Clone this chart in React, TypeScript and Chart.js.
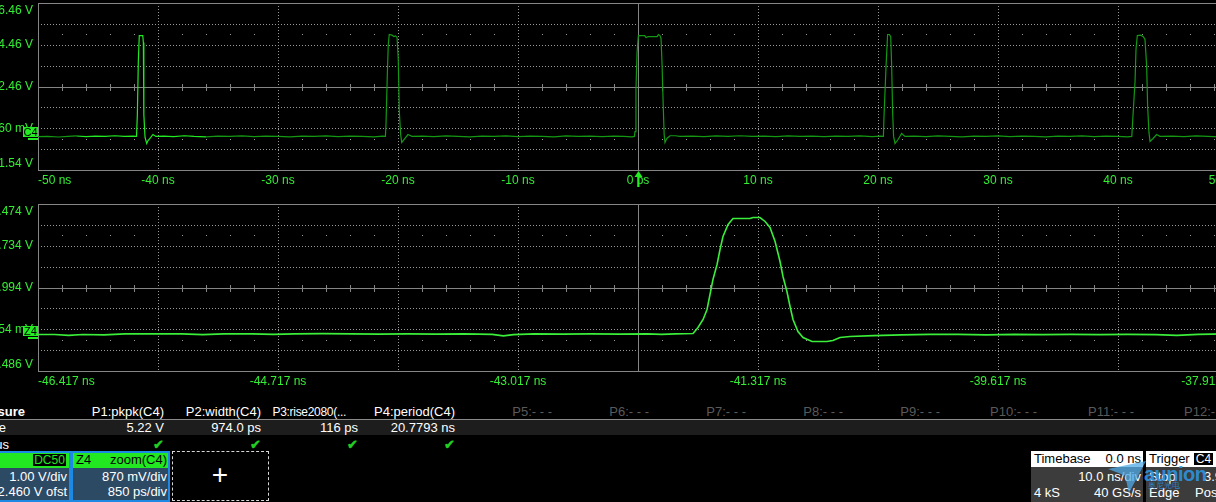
import React, { useEffect, useRef } from 'react';
import { Chart, registerables } from 'chart.js';

Chart.register(...registerables);

const FONT = '"Liberation Sans", Arial, Helvetica, sans-serif';
const W = 1216;
const H = 502;
const AXIS_GREEN = '#33ee33';
const TRACE_BRIGHT = '#22ea22';
const TRACE_DARK = '#149814';
const ZOOM_TRACE = '#3aee3a';
const GRID_DOT = '#9a9a9a';
const GRID_SOLID = '#858585';

// ---------- Top (C4) trace: time in ns, voltage in V ----------
const topTime = [
  -50, -49.2, -48.3, -47.5, -46.8, -46, -45.2, -44.4, -43.6, -42.8, -42.1, -41.79,
  -41.72, -41.64, -41.56, -41.27, -41.22, -41.18, -41.08, -40.94, -40.83, -40.67, -40.42, -40.17,
  -39.5, -38.7, -37.8, -37, -36, -35, -34, -33, -32, -31, -30, -29, -28, -27, -26, -25, -24, -23, -22, -21.3, -21.05,
  -21.0, -20.89, -20.81, -20.73, -20.5, -20.33, -20.2, -20.08, -19.98, -19.89, -19.78, -19.69, -19.5, -19.17, -18.83,
  -18, -17, -16, -15, -14, -13, -12, -11, -10, -9, -8, -7, -6, -5, -4, -3, -2, -1.2, -0.5, -0.3,
  -0.25, -0.17, -0.08, 0.03, 0.55, 0.67, 0.85, 1.6, 1.7, 1.83, 1.92, 2.0, 2.1, 2.18, 2.25, 2.4, 2.67, 3.1, 3.5,
  4.5, 5.5, 6.5, 7.5, 8.5, 9.5, 10.5, 11.5, 12.5, 13.5, 14.5, 15.5, 16.5, 17.5, 18.5, 19.5, 20.2, 20.45,
  20.5, 20.67, 20.8, 20.95, 21.06, 21.14, 21.22, 21.3, 21.42, 21.67, 21.97, 22.25,
  23, 24, 25, 26, 27, 28, 29, 30, 31, 32, 33, 34, 35, 36, 37, 38, 39, 40, 40.8, 41.15,
  41.22, 41.42, 41.5, 41.61, 41.9, 42.11, 42.25, 42.39, 42.47, 42.58, 42.67, 42.92, 43.22, 43.5,
  44.5, 45.5, 46.5, 47.5, 48.5, 49.3, 50,
];
const topVolt = [
  0.06, 0.07, 0.04, 0.07, 0.09, 0.06, 0.08, 0.07, 0.1, 0.07, 0.08, 0.07,
  1.12, 3.66, 4.9, 4.9, 4.57, 1.12, 0.02, -0.27, -0.13, -0.03, 0.16, 0.07,
  0.08, 0.06, 0.1, 0.07, 0.05, 0.08, 0.07, 0.09, 0.06, 0.08, 0.07, 0.05, 0.08, 0.07, 0.09, 0.06, 0.08, 0.07, 0.05, 0.08, 0.07,
  0.64, 3.03, 4.47, 4.95, 4.92, 4.85, 4.88, 4.81, 3.8, 1.26, 0.16, -0.22, -0.08, 0.16, 0.07,
  0.08, 0.06, 0.09, 0.07, 0.05, 0.08, 0.07, 0.09, 0.06, 0.08, 0.07, 0.05, 0.09, 0.07, 0.08, 0.06, 0.08, 0.07, 0.05, 0.07,
  0.3, 2.32, 4.09, 4.9, 4.9, 4.81, 4.85, 4.85, 4.95, 4.9, 4.76, 3.61, 1.6, 0.16, -0.22, -0.03, 0.1, 0.1, 0.07,
  0.08, 0.06, 0.09, 0.07, 0.1, 0.07, 0.08, 0.06, 0.09, 0.07, 0.08, 0.06, 0.08, 0.07, 0.09, 0.06, 0.08, 0.07,
  1.02, 3.42, 4.95, 4.95, 4.85, 3.42, 1.21, 0.07, -0.27, -0.08, 0.21, 0.07,
  0.08, 0.06, 0.09, 0.07, 0.05, 0.08, 0.07, 0.09, 0.06, 0.08, 0.07, 0.05, 0.08, 0.07, 0.09, 0.06, 0.08, 0.07, 0.05, 0.07,
  0.78, 2.7, 4.23, 4.9, 4.92, 4.85, 4.71, 3.42, 1.5, 0.26, -0.17, -0.03, 0.16, 0.07,
  0.08, 0.06, 0.09, 0.07, 0.05, 0.08, 0.07,
];

// ---------- Bottom (Z4 zoom) trace ----------
const zoomTime = [
  -46.417, -46.3, -46.2, -46.1, -45.95, -45.8, -45.6, -45.4, -45.25, -45.1, -44.9, -44.75, -44.6, -44.4, -44.2,
  -44.0, -43.8, -43.6, -43.4, -43.2, -43.12, -43.05, -42.9, -42.7, -42.5, -42.3, -42.1, -42.0, -41.9, -41.777,
  -41.742, -41.706, -41.678, -41.657, -41.636, -41.607, -41.586, -41.565, -41.529, -41.494, -41.374, -41.352,
  -41.303, -41.267, -41.232, -41.196, -41.161, -41.14, -41.112, -41.09, -41.069, -41.034, -40.998, -40.934,
  -40.828, -40.786, -40.736, -40.665, -40.5, -40.3, -40.1, -39.9, -39.7, -39.5, -39.3, -39.1, -38.9, -38.7,
  -38.5, -38.35, -38.2, -38.0, -37.917,
];
const zoomVolt = [
  1.035, 1.035, 1.0, 1.035, 1.02, 1.06, 1.06, 1.06, 1.03, 1.06, 1.06, 1.04, 1.06, 1.07, 1.06,
  1.05, 1.06, 1.05, 1.06, 1.04, 0.98, 1.03, 1.06, 1.05, 1.06, 1.05, 1.06, 1.04, 1.06, 1.077,
  1.327, 1.66, 2.077, 2.702, 3.327, 3.953, 4.578, 5.12, 5.62, 5.87, 5.87, 5.911,
  5.911, 5.745, 5.495, 4.911, 4.078, 3.452, 2.827, 2.202, 1.66, 1.16, 0.91, 0.743,
  0.743, 0.785, 0.91, 0.952, 0.99, 1.02, 1.04, 1.04, 1.02, 1.04, 1.03, 1.04, 1.03, 1.04,
  1.03, 1.0, 1.04, 1.06, 1.06,
];

// ---------- Axis ticks / labels ----------
const topXTicks = [-50, -40, -30, -20, -10, 0, 10, 20, 30, 40, 50];
const topXLabels = ['-50 ns', '-40 ns', '-30 ns', '-20 ns', '-10 ns', '0 ps', '10 ns', '20 ns', '30 ns', '40 ns', '50 ns'];
const topYTicks = [6.46, 4.46, 2.46, 0.46, -1.54];
const topYLabels = ['6.46 V', '4.46 V', '2.46 V', '460 mV', '-1.54 V'];

const zoomXTicks = [-46.417, -44.717, -43.017, -41.317, -39.617, -37.917];
const zoomXLabels = ['-46.417 ns', '-44.717 ns', '-43.017 ns', '-41.317 ns', '-39.617 ns', '-37.917 ns'];
const zoomYTicks = [6.474, 4.734, 2.994, 1.254, -0.486];
const zoomYLabels = ['6.474 V', '4.734 V', '2.994 V', '1254 mV', '-0.486 V'];

// ---------- Measurement table ----------
const measureNames = ['P1:pkpk(C4)', 'P2:width(C4)', 'P3:rise2080(...', 'P4:period(C4)', 'P5:- - -', 'P6:- - -', 'P7:- - -', 'P8:- - -', 'P9:- - -', 'P10:- - -', 'P11:- - -', 'P12:- - -'];
const measureValues = ['5.22 V', '974.0 ps', '116 ps', '20.7793 ns'];
const measureOk = [true, true, true, true];

const c4Info = ['1.00 V/div', '-2.460 V ofst'];
const z4Info = ['870 mV/div', '850 ps/div'];
const timebaseInfo = ['0.0 ns', '10.0 ns/div', '4 kS', '40 GS/s'];
const triggerInfo = ['Stop', '3.96 V', 'Edge', 'Positive'];

type ScopeOpts = {
  xTicks: number[];
  xLabels: string[];
  yTicks: number[];
  yLabels: string[];
  marker: string;
  markerLevel: number;
  trigger: boolean;
};

const scopePlugin = {
  id: 'scope',
  beforeDatasetsDraw(chart: any, _a: any, o: ScopeOpts) {
    const { ctx, chartArea: a } = chart;
    const xs = chart.scales.x;
    const ys = chart.scales.y;
    const xDiv = 10;
    const yDiv = 8;
    const px = (f: number) => Math.round(xs.getPixelForValue(xs.min + (xs.max - xs.min) * f));
    const py = (f: number) => Math.round(ys.getPixelForValue(ys.min + (ys.max - ys.min) * f));
    ctx.save();
    ctx.lineWidth = 1;
    ctx.strokeStyle = GRID_DOT;
    ctx.setLineDash([1, 2]);
    for (let i = 1; i < xDiv; i++) {
      if (i === xDiv / 2) continue;
      const x = px(i / xDiv) + 0.5;
      ctx.beginPath();
      ctx.moveTo(x, a.top);
      ctx.lineTo(x, a.bottom);
      ctx.stroke();
    }
    for (let j = 1; j < yDiv; j++) {
      if (j === yDiv / 2) continue;
      const y = py(j / yDiv) + 0.5;
      ctx.beginPath();
      ctx.moveTo(a.left, y);
      ctx.lineTo(a.right, y);
      ctx.stroke();
    }
    ctx.setLineDash([]);
    const yc = py(0.5);
    const yUp = py(0.5 + 2.5 / yDiv);
    const yDn = py(0.5 - 2.5 / yDiv);
    ctx.fillStyle = GRID_DOT;
    for (let k = 1; k < xDiv * 5; k++) {
      if (k % 5 === 0) continue;
      const x = px(k / (xDiv * 5));
      ctx.fillRect(x, yUp, 1, 1);
      ctx.fillRect(x, yDn, 1, 1);
    }
    ctx.strokeStyle = GRID_SOLID;
    ctx.beginPath();
    ctx.moveTo(a.left, yc + 0.5);
    ctx.lineTo(a.right, yc + 0.5);
    const xc = px(0.5) + 0.5;
    ctx.moveTo(xc, a.top);
    ctx.lineTo(xc, a.bottom);
    for (let k = 1; k < xDiv * 5; k++) {
      if (k % 5 === 0) continue;
      const x = px(k / (xDiv * 5)) + 0.5;
      ctx.moveTo(x, yc - 3);
      ctx.lineTo(x, yc + 4);
    }
    ctx.moveTo(a.left, a.top + 0.5);
    ctx.lineTo(a.right, a.top + 0.5);
    ctx.moveTo(a.left, a.bottom + 0.5);
    ctx.lineTo(a.right, a.bottom + 0.5);
    ctx.moveTo(a.left + 0.5, a.top);
    ctx.lineTo(a.left + 0.5, a.bottom + 1);
    ctx.stroke();
    ctx.restore();
  },
  afterDraw(chart: any, _a: any, o: ScopeOpts) {
    const { ctx, chartArea: a } = chart;
    const xs = chart.scales.x;
    const ys = chart.scales.y;
    ctx.save();
    ctx.font = `12px ${FONT}`;
    ctx.fillStyle = AXIS_GREEN;
    ctx.textBaseline = 'middle';
    ctx.textAlign = 'right';
    o.yTicks.forEach((v, i) => {
      let y = ys.getPixelForValue(v);
      y = Math.min(Math.max(y, a.top + 8), a.bottom - 6);
      ctx.fillText(o.yLabels[i], a.left - 5, y);
    });
    o.xTicks.forEach((v, i) => {
      const x = xs.getPixelForValue(v);
      ctx.textAlign = x <= a.left + 1 ? 'left' : x >= a.right - 1 ? 'right' : 'center';
      ctx.fillText(o.xLabels[i], x, a.bottom + 11);
    });
    // channel marker
    const my = Math.round(ys.getPixelForValue(o.markerLevel));
    ctx.fillStyle = '#22ee22';
    ctx.fillRect(a.left - 15, my - 11, 15, 10);
    ctx.fillRect(a.left - 10, my, 10, 2);
    ctx.fillStyle = '#000';
    ctx.font = `11px ${FONT}`;
    ctx.textAlign = 'center';
    ctx.fillText(o.marker, a.left - 7.5, my - 5.5);
    // trigger arrow
    if (o.trigger) {
      const tx = Math.round(xs.getPixelForValue(0)) + 0.5;
      ctx.fillStyle = '#22ee22';
      ctx.beginPath();
      ctx.moveTo(tx, a.bottom + 1);
      ctx.lineTo(tx + 4, a.bottom + 7);
      ctx.lineTo(tx - 4, a.bottom + 7);
      ctx.closePath();
      ctx.fill();
      ctx.fillRect(tx - 1, a.bottom + 7, 2, 10);
    }
    ctx.restore();
  },
};

type ScopeProps = {
  top: number;
  height: number;
  pad: { left: number; right: number; top: number; bottom: number };
  time: number[];
  volt: number[];
  xMin: number;
  xMax: number;
  yMin: number;
  yMax: number;
  opts: ScopeOpts;
  zoom: boolean;
};

function ScopePanel(p: ScopeProps) {
  const ref = useRef<HTMLCanvasElement>(null);
  const CW = 1260;
  useEffect(() => {
    if (!ref.current) return;
    const data = p.time.map((t, i) => ({ x: t, y: p.volt[i] }));
    const chart = new Chart(ref.current, {
      type: 'line',
      data: {
        datasets: [
          {
            data,
            borderWidth: p.zoom ? 1.6 : 1.2,
            borderColor: p.zoom ? ZOOM_TRACE : TRACE_DARK,
            pointRadius: 0,
            tension: 0,
            fill: false,
            segment: p.zoom
              ? undefined
              : {
                  borderColor: (c: any) =>
                    c.p0.parsed.x >= -47 && c.p1.parsed.x <= -36 ? TRACE_BRIGHT : TRACE_DARK,
                },
          } as any,
        ],
      },
      options: {
        responsive: false,
        animation: false,
        devicePixelRatio: 1,
        layout: { padding: p.pad },
        scales: {
          x: { type: 'linear', min: p.xMin, max: p.xMax, display: false },
          y: { type: 'linear', min: p.yMin, max: p.yMax, display: false },
        },
        plugins: {
          legend: { display: false },
          tooltip: { enabled: false },
          scope: p.opts,
        } as any,
      },
      plugins: [scopePlugin as any],
    });
    return () => chart.destroy();
  }, []);
  return (
    <canvas
      ref={ref}
      width={CW}
      height={p.height}
      style={{ position: 'absolute', left: 0, top: p.top, width: CW, height: p.height }}
    />
  );
}

type TxtProps = {
  x: number;
  y: number;
  children: React.ReactNode;
  align?: 'left' | 'right' | 'center';
  color?: string;
  size?: number;
  bold?: boolean;
  style?: React.CSSProperties;
};

function Txt({ x, y, children, align = 'left', color = '#fff', size = 13, bold = false, style = {} }: TxtProps) {
  const pos: React.CSSProperties =
    align === 'left' ? { left: x } : align === 'right' ? { right: W - x } : { left: x, transform: 'translateX(-50%)' };
  return (
    <div
      style={{
        position: 'absolute',
        top: y - 8,
        height: 16,
        lineHeight: '16px',
        fontSize: size,
        fontWeight: bold ? 700 : 400,
        color,
        whiteSpace: 'nowrap',
        fontFamily: FONT,
        ...pos,
        ...style,
      }}
    >
      {children}
    </div>
  );
}

function Box({ left, top, width, height, style }: { left: number; top: number; width: number; height: number; style?: React.CSSProperties }) {
  return <div style={{ position: 'absolute', left, top, width, height, boxSizing: 'border-box', ...style }} />;
}

export default function App() {
  const colRight = (i: number) => 164 + 97 * i;
  return (
    <div
      style={{
        position: 'fixed',
        left: 0,
        top: 0,
        width: W,
        height: H,
        background: '#000',
        overflow: 'hidden',
        fontFamily: FONT,
      }}
    >
      <ScopePanel
        top={0}
        height={195}
        pad={{ left: 38, right: 22, top: 3, bottom: 25 }}
        time={topTime}
        volt={topVolt}
        xMin={-50}
        xMax={50}
        yMin={-1.54}
        yMax={6.46}
        zoom={false}
        opts={{ xTicks: topXTicks, xLabels: topXLabels, yTicks: topYTicks, yLabels: topYLabels, marker: 'C4', markerLevel: 0, trigger: true }}
      />
      <ScopePanel
        top={190}
        height={205}
        pad={{ left: 38, right: 22, top: 14, bottom: 24 }}
        time={zoomTime}
        volt={zoomVolt}
        xMin={-46.417}
        xMax={-37.917}
        yMin={-0.486}
        yMax={6.474}
        zoom={true}
        opts={{ xTicks: zoomXTicks, xLabels: zoomXLabels, yTicks: zoomYTicks, yLabels: zoomYLabels, marker: 'Z4', markerLevel: 0.95, trigger: false }}
      />

      {/* Measurement table */}
      <Txt x={25} y={412} align="right" bold>Measure</Txt>
      {measureNames.map((n, i) => (
        <Txt
          key={n}
          x={i === 2 ? 346 : colRight(i)}
          y={412}
          align="right"
          color={i < 4 ? '#fff' : '#5a5a5a'}
          size={i === 2 ? 12 : 13}
          style={i === 2 ? { letterSpacing: '-0.3px' } : {}}
        >
          {n}
        </Txt>
      ))}
      <Box left={0} top={419} width={W} height={1} style={{ background: '#8a8a8a' }} />
      <Box left={0} top={420} width={W} height={15} style={{ background: '#1d1d1d' }} />
      <Txt x={6} y={428} align="right">Value</Txt>
      {measureValues.map((v, i) => (
        <Txt key={v} x={colRight(i)} y={428} align="right">{v}</Txt>
      ))}
      <Txt x={9} y={445} align="right">Status</Txt>
      {measureOk.map((ok, i) => (
        <Txt key={i} x={colRight(i) - 6} y={445} align="center" color="#22cc22" size={13} bold>
          {ok ? '✔' : ''}
        </Txt>
      ))}

      {/* C4 descriptor */}
      <Box left={-40} top={451} width={111} height={51} style={{ background: '#2c4a64', border: '2px solid #1e88e5' }} />
      <Box left={-38} top={453} width={107} height={15} style={{ background: '#22e822' }} />
      <div
        style={{
          position: 'absolute', left: 32, top: 453, width: 35, height: 14, background: '#000',
          border: '1px solid #22e822', boxSizing: 'border-box', color: '#22e822', fontSize: 12,
          lineHeight: '12px', textAlign: 'center', fontFamily: FONT, whiteSpace: 'nowrap',
        }}
      >
        DC50
      </div>
      <Txt x={67} y={477} align="right">{c4Info[0]}</Txt>
      <Txt x={67} y={492} align="right">{c4Info[1]}</Txt>

      {/* Z4 descriptor */}
      <Box left={71} top={451} width={99} height={51} style={{ background: '#2c4a64', border: '2px solid #1e88e5' }} />
      <Box left={73} top={453} width={95} height={15} style={{ background: '#22e822' }} />
      <Txt x={76} y={460} color="#000">Z4</Txt>
      <Txt x={167} y={460} align="right" color="#000">zoom(C4)</Txt>
      <Txt x={167} y={477} align="right">{z4Info[0]}</Txt>
      <Txt x={167} y={492} align="right">{z4Info[1]}</Txt>

      {/* Add box */}
      <Box left={172} top={451} width={97} height={50} style={{ border: '1px dashed #d8d8d8' }} />
      <Txt x={220} y={476} align="center" size={28} style={{ top: 460, height: 30, lineHeight: '30px' }}>+</Txt>

      {/* Timebase */}
      <Box left={1031} top={451} width={112} height={51} style={{ background: '#3c3c3c' }} />
      <Box left={1031} top={451} width={112} height={16} style={{ background: '#fff' }} />
      <Txt x={1034} y={459} color="#000">Timebase</Txt>
      <Txt x={1141} y={459} align="right" color="#000">{timebaseInfo[0]}</Txt>
      <Txt x={1141} y={477} align="right">{timebaseInfo[1]}</Txt>
      <Txt x={1034} y={493}>{timebaseInfo[2]}</Txt>
      <Txt x={1141} y={493} align="right">{timebaseInfo[3]}</Txt>

      {/* Trigger */}
      <Box left={1146} top={451} width={110} height={51} style={{ background: '#3c3c3c' }} />
      <Box left={1146} top={451} width={110} height={16} style={{ background: '#fff' }} />
      <Txt x={1149} y={459} color="#000">Trigger</Txt>
      <div
        style={{
          position: 'absolute', left: 1193, top: 452, width: 21, height: 14, background: '#000',
          border: '1px solid #fff', boxSizing: 'border-box', color: '#fff', fontSize: 12,
          lineHeight: '12px', textAlign: 'center', fontFamily: FONT,
        }}
      >
        C4
      </div>
      <Txt x={1149} y={477}>{triggerInfo[0]}</Txt>
      <Txt x={1204} y={477}>{triggerInfo[1]}</Txt>
      <Txt x={1149} y={493}>{triggerInfo[2]}</Txt>
      <Txt x={1195} y={493}>{triggerInfo[3]}</Txt>

      {/* Watermark */}
      <div
        style={{
          position: 'absolute', left: 1108, top: 461, width: 38, height: 32,
          background: 'rgba(80,170,230,0.75)',
          clipPath: 'polygon(0% 25%, 100% 0%, 55% 100%, 45% 45%)',
        }}
      />
      <Txt x={1144} y={474} bold size={20} color="rgba(45,150,225,0.9)" style={{ letterSpacing: '-0.5px' }}>aunion</Txt>
      <Txt x={1148} y={486} size={8} color="rgba(45,140,215,0.9)">奥尼光电</Txt>
    </div>
  );
}
